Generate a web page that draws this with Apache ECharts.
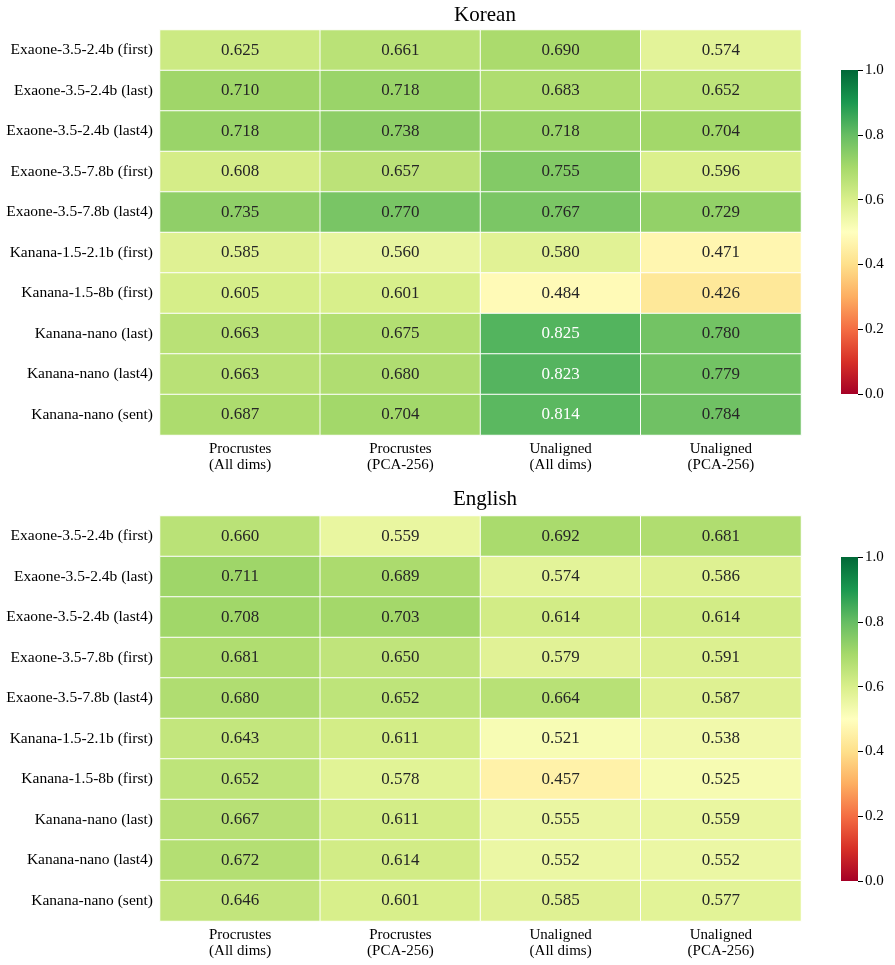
<!DOCTYPE html>
<html>
<head>
<meta charset="utf-8">
<script src="https://cdn.jsdelivr.net/npm/echarts@6/dist/echarts.min.js"></script>
<style>
  html, body { margin: 0; padding: 0; background: #fff; }
  #main { width: 895px; height: 965px; }
</style>
</head>
<body>
<div id="main"></div>
<script>
// row / column labels
const models = [
  'Exaone-3.5-2.4b (first)', 'Exaone-3.5-2.4b (last)', 'Exaone-3.5-2.4b (last4)',
  'Exaone-3.5-7.8b (first)', 'Exaone-3.5-7.8b (last4)', 'Kanana-1.5-2.1b (first)',
  'Kanana-1.5-8b (first)', 'Kanana-nano (last)', 'Kanana-nano (last4)', 'Kanana-nano (sent)'
]
const methods = ['Procrustes\n(All dims)', 'Procrustes\n(PCA-256)', 'Unaligned\n(All dims)', 'Unaligned\n(PCA-256)']
const barTicks = [0, 0.2, 0.4, 0.6, 0.8, 1.0]

// Korean, one array per column
const koProcAll = [0.625, 0.710, 0.718, 0.608, 0.735, 0.585, 0.605, 0.663, 0.663, 0.687]
const koProcPca = [0.661, 0.718, 0.738, 0.657, 0.770, 0.560, 0.601, 0.675, 0.680, 0.704]
const koUnalAll = [0.690, 0.683, 0.718, 0.755, 0.767, 0.580, 0.484, 0.825, 0.823, 0.814]
const koUnalPca = [0.574, 0.652, 0.704, 0.596, 0.729, 0.471, 0.426, 0.780, 0.779, 0.784]

// English
const enProcAll = [0.660, 0.711, 0.708, 0.681, 0.680, 0.643, 0.652, 0.667, 0.672, 0.646]
const enProcPca = [0.559, 0.689, 0.703, 0.650, 0.652, 0.611, 0.578, 0.611, 0.614, 0.601]
const enUnalAll = [0.692, 0.574, 0.614, 0.579, 0.664, 0.521, 0.457, 0.555, 0.552, 0.585]
const enUnalPca = [0.681, 0.586, 0.614, 0.591, 0.587, 0.538, 0.525, 0.559, 0.552, 0.577]

// RdYlGn
const rdylgn = ['#a50026', '#d73027', '#f46d43', '#fdae61', '#fee08b', '#ffffbf',
  '#d9ef8b', '#a6d96a', '#66bd63', '#1a9850', '#006837']

const FONT = '"Liberation Serif", "DejaVu Serif", serif'

function toCells(cols) {
  let out = []
  cols.forEach((col, x) => {
    col.forEach((v, y) => out.push([x, y, v]))
  })
  return out
}

const koData = toCells([koProcAll, koProcPca, koUnalAll, koUnalPca])
const enData = toCells([enProcAll, enProcPca, enUnalAll, enUnalPca])

const heatTop = [30, 516]
const barTop = [70, 557]

let grids = [], xAxes = [], yAxes = [], series = [], visualMaps = []

heatTop.forEach((top, i) => {
  grids.push({ left: 160, top: top, width: 641, height: 405 })
  xAxes.push({
    type: 'category', gridIndex: i, data: methods, position: 'bottom',
    axisLine: { show: false }, axisTick: { show: false }, splitArea: { show: false },
    axisLabel: { fontFamily: FONT, fontSize: 15, color: '#000', lineHeight: 16, margin: 6 }
  })
  yAxes.push({
    type: 'category', gridIndex: i, data: models, inverse: true,
    axisLine: { show: false }, axisTick: { show: false },
    axisLabel: { fontFamily: FONT, fontSize: 15.5, color: '#000', margin: 7 }
  })
  series.push({
    type: 'heatmap', xAxisIndex: i, yAxisIndex: i,
    data: i === 0 ? koData : enData,
    itemStyle: { borderColor: '#fff', borderWidth: 1 },
    emphasis: { disabled: true },
    label: {
      show: true,
      formatter: p => (p.value[2] > 0.8 ? '{w|' : '{b|') + p.value[2].toFixed(3) + '}',
      rich: {
        w: { color: '#fff', fontFamily: FONT, fontSize: 17 },
        b: { color: '#262626', fontFamily: FONT, fontSize: 17 }
      }
    }
  })
  visualMaps.push({
    type: 'continuous', show: false, min: 0, max: 1, dimension: 2,
    seriesIndex: i, inRange: { color: rdylgn }
  })
})

// colorbars
barTop.forEach((top, i) => {
  let gi = grids.length
  grids.push({ left: 841, top: top, width: 17, height: 324 })
  xAxes.push({ type: 'category', gridIndex: gi, data: [''], show: false })
  yAxes.push({
    type: 'value', gridIndex: gi, min: 0, max: 1, interval: 0.2, position: 'right',
    axisLine: { show: false }, splitLine: { show: false },
    axisTick: { show: true, length: 5, lineStyle: { color: '#000' } },
    axisLabel: { fontFamily: FONT, fontSize: 15, color: '#000', margin: 7,
      formatter: v => v.toFixed(1) }
  })
  series.push({
    type: 'bar', xAxisIndex: gi, yAxisIndex: gi, data: [barTicks[barTicks.length - 1]],
    barWidth: '100%', silent: true,
    itemStyle: {
      color: new echarts.graphic.LinearGradient(0, 0, 0, 1,
        rdylgn.slice().reverse().map((c, k) => ({ offset: k / (rdylgn.length - 1), color: c })))
    }
  })
})

let myChart = echarts.init(document.getElementById('main'))
let option = {
  backgroundColor: '#fff',
  animation: false,
  title: [
    { text: 'Korean', left: 480, top: 0, textAlign: 'center',
      textStyle: { fontFamily: FONT, fontSize: 21, fontWeight: 'normal', color: '#000' } },
    { text: 'English', left: 480, top: 484, textAlign: 'center',
      textStyle: { fontFamily: FONT, fontSize: 21, fontWeight: 'normal', color: '#000' } }
  ],
  grid: grids,
  xAxis: xAxes,
  yAxis: yAxes,
  visualMap: visualMaps,
  series: series
}
myChart.setOption(option)
</script>
</body>
</html>
